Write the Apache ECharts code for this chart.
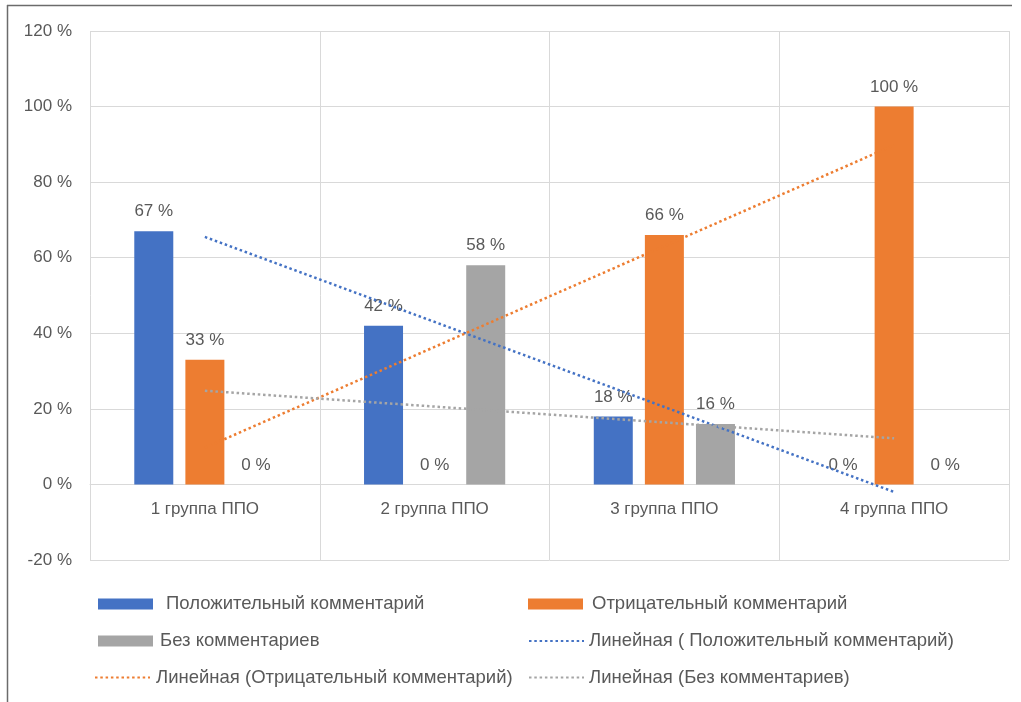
<!DOCTYPE html>
<html>
<head>
<meta charset="utf-8">
<script src="https://cdn.jsdelivr.net/npm/echarts@6/dist/echarts.min.js"></script>
<style>
  html, body { margin: 0; padding: 0; background: #fff; }
  #chart { width: 1021px; height: 702px; }
</style>
</head>
<body>
<div id="chart"></div>
<script>
var categories = ['1 группа ППО', '2 группа ППО', '3 группа ППО', '4 группа ППО'];
var positive = [67, 42, 18, 0];
var negative = [33, 0, 66, 100];
var noComment = [0, 58, 16, 0];
var trendPositive = [65.5, 43, 20.5, -2];
var trendNegative = [9.7, 36.4, 63.1, 89.8];
var trendNoComment = [24.8, 20.6, 16.4, 12.2];
var yTicks = [-20, 0, 20, 40, 60, 80, 100, 120];

var names = ['Положительный комментарий', 'Отрицательный комментарий', 'Без комментариев',
  'Линейная ( Положительный комментарий)', 'Линейная (Отрицательный комментарий)', 'Линейная (Без комментариев)'];
var colors = ['#4472C4', '#ED7D31', '#A5A5A5'];

var font = 'Liberation Sans';
var txt = '#595959';

var myChart = echarts.init(document.getElementById('chart'));

function barSeries(name, data, color) {
  return {
    name: name,
    type: 'bar',
    data: data,
    barWidth: 39,
    barGap: '31%',
    itemStyle: { color: color },
    label: {
      show: true,
      position: 'top',
      distance: 11,
      formatter: '{c} %',
      color: txt,
      fontFamily: font,
      fontSize: 17
    },
    z: 2
  };
}

function trendSeries(name, data, color) {
  return {
    name: name,
    type: 'line',
    data: data,
    symbol: 'none',
    showSymbol: false,
    silent: true,
    lineStyle: { color: color, width: 2.5, type: [2.5, 2.8] },
    itemStyle: { color: color },
    z: 3
  };
}

function legendItem(name, left, top, pad, isBar) {
  var l = {
    data: [name],
    left: left,
    top: top,
    padding: 0,
    itemWidth: 55,
    itemHeight: 11,
    textStyle: { color: txt, fontFamily: font, fontSize: 18.5, padding: [0, 0, 0, pad] }
  };
  if (isBar) {
    l.icon = 'rect';
  } else {
    // прячем кружок-маркер у линейных элементов легенды
    l.itemStyle = { opacity: 0 };
  }
  return l;
}

var option = {
  animation: false,
  backgroundColor: '#fff',
  grid: { left: 90, right: 12, top: 31, bottom: 142 },
  xAxis: {
    type: 'category',
    data: categories,
    offset: -76,
    axisLine: { onZero: false, lineStyle: { color: '#d9d9d9', width: 1 } },
    axisTick: { show: false },
    axisLabel: { color: txt, fontFamily: font, fontSize: 17, margin: 17 },
    splitLine: { show: true, lineStyle: { color: '#d9d9d9', width: 1 } }
  },
  yAxis: {
    type: 'value',
    min: yTicks[0],
    max: yTicks[yTicks.length - 1],
    interval: 20,
    axisLine: { show: false },
    axisTick: { show: false },
    axisLabel: { color: txt, fontFamily: font, fontSize: 17, margin: 18, formatter: '{value} %' },
    splitLine: { lineStyle: { color: '#d9d9d9', width: 1 } }
  },
  legend: [
    legendItem(names[0], 98, 594.5, 8, true),
    legendItem(names[1], 528, 594.5, 4, true),
    legendItem(names[2], 98, 631.5, 2, true),
    legendItem(names[3], 528, 631.5, 0, false),
    legendItem(names[4], 94, 668, 1, false),
    legendItem(names[5], 528, 668, 0, false)
  ],
  graphic: [
    { type: 'line', shape: { x1: 7, y1: 5.5, x2: 1012, y2: 5.5 }, style: { stroke: '#6b6b6b', lineWidth: 1.5 } },
    { type: 'line', shape: { x1: 7.5, y1: 5, x2: 7.5, y2: 702 }, style: { stroke: '#6b6b6b', lineWidth: 1.5 } }
  ],
  series: [
    barSeries(names[0], positive, colors[0]),
    barSeries(names[1], negative, colors[1]),
    barSeries(names[2], noComment, colors[2]),
    trendSeries(names[3], trendPositive, colors[0]),
    trendSeries(names[4], trendNegative, colors[1]),
    trendSeries(names[5], trendNoComment, colors[2])
  ]
};

myChart.setOption(option);
</script>
</body>
</html>
